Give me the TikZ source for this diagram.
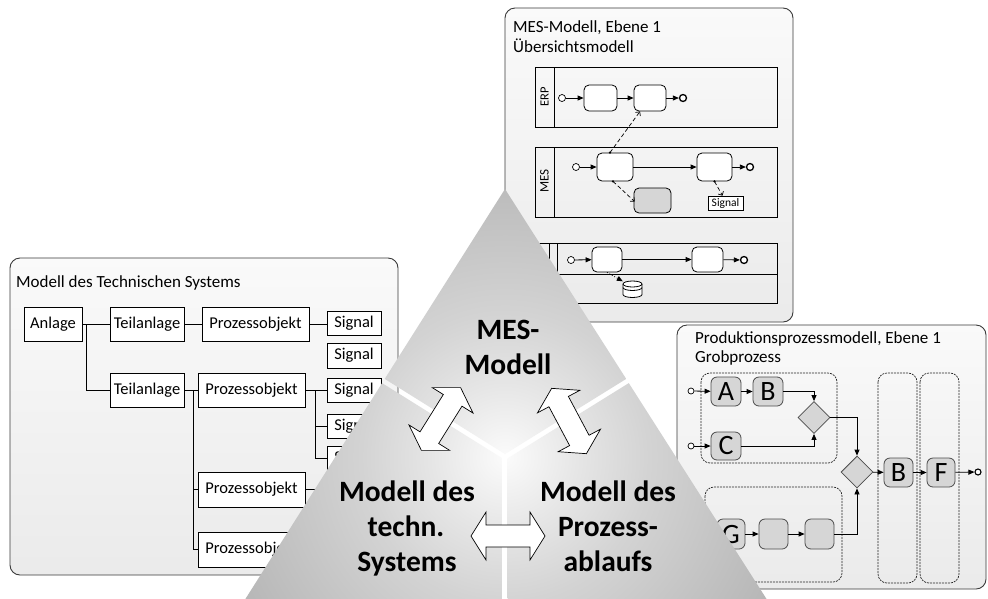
\documentclass[tikz,border=0pt]{standalone}
\usepackage{fontspec}
\setmainfont{Carlito}
\usetikzlibrary{arrows.meta,shapes.geometric,calc}

\definecolor{pyrA}{HTML}{FBFBFB}
\definecolor{pyrB}{HTML}{E6E6E6}
\definecolor{pyrC}{HTML}{D3D3D3}
\definecolor{pyrD}{HTML}{B6B6B6}
\definecolor{panelline}{HTML}{3A3A3A}
\definecolor{taskgray}{HTML}{D6D6D6}
\pgfdeclareradialshading{pyrglow}{\pgfpointorigin}{color(0bp)=(pyrA); color(6bp)=(pyrB); color(12bp)=(pyrC); color(25bp)=(pyrD); color(50bp)=(pyrD)}

\begin{document}
\begin{tikzpicture}[x=1pt,y=-1pt,
  panel/.style={draw=panelline, line width=0.9pt, rounded corners=10pt, top color=white!98!black, bottom color=white!92!black},
  title/.style={anchor=base west, inner sep=0pt, font=\fontsize{17}{20}\selectfont},
  tbox/.style={draw, fill=white, line width=0.8pt, inner sep=0pt, font=\fontsize{16.5}{19}\selectfont},
  tline/.style={draw, line width=0.8pt},
  pool/.style={draw, line width=1pt},
  lanelabel/.style={rotate=90, inner sep=0pt, font=\fontsize{13}{14}\selectfont},
  mtask/.style={draw, fill=white, rounded corners=5pt, inner sep=0pt, line width=0.8pt},
  startev/.style={circle, draw, fill=white, inner sep=0pt, minimum size=7pt, line width=0.7pt},
  endev/.style={circle, draw, fill=white, inner sep=0pt, minimum size=7pt, line width=1.3pt},
  flow/.style={draw, line width=0.8pt, -{Triangle[length=6pt,width=5pt]}},
  assoc/.style={draw, line width=0.7pt, dash pattern=on 4pt off 2.5pt, -{Straight Barb[length=3pt,width=6pt]}},
  datalink/.style={draw, line width=0.8pt, dotted, -{Triangle[length=6pt,width=5pt]}},
  gtask/.style={draw=black!70, fill=taskgray, rounded corners=6pt, inner sep=0pt, line width=0.8pt, font=\fontsize{28}{28}\selectfont},
  gw/.style={diamond, draw=black!70, fill=taskgray, inner sep=0pt, minimum width=32pt, minimum height=32pt, line width=0.8pt},
  grp/.style={draw=black!85, dash pattern=on 2pt off 1pt, rounded corners=9pt, line width=0.7pt},
  ptext/.style={anchor=base, inner sep=0pt, font=\fontsize{29.5}{35}\selectfont\bfseries},
  dbl/.style={draw=black, fill=white, line width=0.7pt, line join=miter},
  dblarrow/.pic={\path[dbl] (-37,0) -- (-22,24) -- (-22,11) -- (22,11) -- (22,24) -- (37,0)
      -- (22,-24) -- (22,-11) -- (-22,-11) -- (-22,-24) -- cycle;}
]
\useasboundingbox (0,0) rectangle (988,598);
\clip (0,0) rectangle (988,598);
\fill[white] (0,0) rectangle (988,598);

% ---------------- technical system panel ----------------
\path[panel] (10,258) rectangle (398,575);
\node[title] (techtitle) at (16,287.5) {Modell des Technischen Systems};

\node[tbox, minimum width=58pt, minimum height=34pt] (anl) at (53,324) {Anlage};
\node[tbox, minimum width=74pt, minimum height=34pt] (ta1) at (147,324) {Teilanlage};
\node[tbox, minimum width=107pt, minimum height=34pt] (po1) at (255.5,324) {Prozessobjekt};
\node[tbox, minimum width=54pt, minimum height=23.5pt] (s1) at (354,323.5) {Signal};
\node[tbox, minimum width=54pt, minimum height=25pt] (s2) at (354,355.5) {Signal};
\node[tbox, minimum width=74pt, minimum height=34pt] (ta2) at (147,390) {Teilanlage};
\node[tbox, minimum width=107pt, minimum height=34pt] (po2) at (251.5,390) {Prozessobjekt};
\node[tbox, minimum width=54pt, minimum height=24pt] (s3) at (354,390) {Signal};
\node[tbox, minimum width=54pt, minimum height=24pt] (s4) at (354,426) {Signal};
\node[tbox, minimum width=54pt, minimum height=24pt] (s5) at (354,458) {Signal};
\node[tbox, minimum width=107pt, minimum height=35pt] (po3) at (251.5,489.5) {Prozessobjekt};
\node[tbox, minimum width=107pt, minimum height=35pt] (po4) at (251.5,549.5) {Prozessobjekt};
\coordinate (po3out) at (320,489.5);

\draw[tline] (anl.east) -- (ta1.west);
\draw[tline] ($(anl.east)+(4,0)$) |- (ta2.west);
\draw[tline] (ta1.east) -- (po1.west);
\draw[tline] (po1.east) -- (po1.east -| s1.west);
\draw[tline] (ta2.east) -- (po2.west);
\draw[tline] ($(ta2.east)+(9,0)$) |- (po3.west);
\draw[tline] ($(ta2.east)+(9,0)$) |- (po4.west);
\draw[tline] (po2.east) -- (s3.west);
\draw[tline] ($(po2.east)+(10,0)$) |- (s4.west);
\draw[tline] ($(po2.east)+(10,0)$) |- (s5.west);
\draw[tline] (po3.east) -- (po3out);

% ---------------- MES panel ----------------
\path[panel] (505,8) rectangle (793,322);
\node[title] (mestitle1) at (513,32) {MES-Modell, Ebene 1};
\node[title] (mestitle2) at (513,52) {Übersichtsmodell};

% ERP pool
\draw[pool] (535,67) rectangle (777,127);
\draw[pool] (554,67) -- (554,127);
\node[lanelabel, font=\fontsize{12.5}{13}\selectfont] (erpl) at (544.5,97) {ERP};
\node[startev] (es) at (562,98) {};
\node[mtask, minimum width=33pt, minimum height=26pt] (et1) at (600.5,98) {};
\node[mtask, minimum width=32pt, minimum height=26pt] (et2) at (650,98) {};
\node[endev] (ee) at (683,98) {};
\draw[flow] (es) -- (et1);
\draw[flow] (et1) -- (et2);
\draw[flow] (et2) -- (ee);

% MES pool
\draw[pool] (535,147) rectangle (777,217);
\draw[pool] (554,147) -- (554,217);
\node[lanelabel] (mesl) at (544.5,181) {MES};
\node[startev] (ms) at (576,167) {};
\node[mtask, minimum width=36pt, minimum height=28pt] (ma) at (615,167) {};
\node[mtask, minimum width=35pt, minimum height=28pt] (mb) at (714.5,167) {};
\node[endev] (me) at (750,167) {};
\node[mtask, fill=taskgray, minimum width=37pt, minimum height=25pt] (mg) at (652.5,200.5) {};
\node[draw, fill=white, inner sep=0pt, minimum width=35pt, minimum height=14pt, line width=0.7pt,
      font=\fontsize{11.5}{12}\selectfont] (msig) at (725.5,203) {Signal};
\draw[flow] (ms) -- (ma);
\draw[flow] (ma) -- (mb);
\draw[flow] (mb) -- (me);
\fill ($(ma.north)+(-5,0)$) circle (1.3pt);
\draw[assoc] ($(ma.north)+(-5,0)$) -- ($(et2.south)+(-10,0)$);
\fill ($(ma.south)+(-2,0)$) circle (1.3pt);
\draw[assoc] ($(ma.south)+(-2,0)$) -- ($(mg.west)+(1,1)$);
\fill (mb.south) circle (1.3pt);
\draw[assoc] (mb.south) -- ($(msig.north)+(-3,0)$);

% third pool with two lanes
\draw[pool] (535,243) rectangle (777,303);
\draw[pool] (549,243) -- (549,303);
\draw[pool] (557,243) -- (557,303);
\draw[pool] (557,274) -- (777,274);
\node[startev] (ls) at (571,260) {};
\node[mtask, minimum width=30pt, minimum height=25pt] (lt1) at (607,259.5) {};
\node[mtask, minimum width=31pt, minimum height=25pt] (lt2) at (707.5,259.5) {};
\node[endev] (le) at (744,260) {};
% data store drawn as a small can
\node[inner sep=0pt, minimum width=19pt, minimum height=16pt] (store) at (632.5,289) {};
\draw[fill=white, line width=0.8pt] (623,284) -- (623,294.5)
   arc[start angle=180, end angle=0, x radius=9.5, y radius=3] -- (642,284);
\draw[fill=white, line width=0.8pt] (632.5,284) ellipse [x radius=9.5, y radius=3];
\draw[line width=0.8pt] (623,287.5) arc[start angle=180, end angle=0, x radius=9.5, y radius=3];
\draw[datalink] (lt1.south) -- ($(store.north west)+(0,0.5)$);
\draw[flow] (ls) -- (lt1);
\draw[flow] (lt1) -- (lt2);
\draw[flow] (lt2) -- (le);

% ---------------- production process panel ----------------
\path[panel] (677,325) rectangle (986,589);
\node[title] (protitle1) at (695,343) {Produktionsprozessmodell, Ebene 1};
\node[title] (protitle2) at (695,362) {Grobprozess};

\draw[grp] (701,373) rectangle (837,463);
\draw[grp] (705,487) rectangle (842,582);
\draw[grp] (878,373) rectangle (917,583);
\draw[grp] (920,373) rectangle (959,583);

\node[startev, minimum size=6pt] (ps1) at (691,391) {};
\node[startev, minimum size=6pt] (ps2) at (691,446) {};
\node[gtask, minimum width=30pt, minimum height=29pt] (pa) at (726,391.5) {A};
\node[gtask, minimum width=30pt, minimum height=29pt] (pb) at (768,391.5) {B};
\node[gtask, minimum width=30pt, minimum height=28pt] (pc) at (726,446) {C};
\node[gw] (gw1) at (814,417.5) {};
\node[gw] (gw2) at (857,472) {};
\node[gtask, minimum width=29pt, minimum height=29pt] (lb) at (898.5,472.5) {B};
\node[gtask, minimum width=28pt, minimum height=29pt] (lf) at (941,472.5) {F};
\node[endev, minimum size=6pt, line width=1.1pt] (pe) at (978,472) {};
\node[gtask, minimum width=28pt, minimum height=30pt] (pg) at (731,534) {G};
\node[gtask, minimum width=29pt, minimum height=30pt] (pg2) at (773.5,534) {};
\node[gtask, minimum width=29pt, minimum height=30pt] (pg3) at (819.5,534) {};

\draw[flow] (ps1) -- (pa);
\draw[flow] (ps2) -- (pc);
\draw[flow] (pa) -- (pb);
\draw[flow] (pb.east) -| (gw1.north);
\draw[flow] (pc.east) -| (gw1.south);
\draw[flow] (gw1.east) -| (gw2.north);
\draw[flow] (pg3.east) -| (gw2.south);
\draw[flow] (gw2) -- (lb);
\draw[flow] (lb) -- (lf);
\draw[flow] (lf) -- (pe);
\draw[flow] (pg) -- (pg2);
\draw[flow] (pg2) -- (pg3);

% ---------------- pyramid of the three models ----------------
\begin{scope}
  \clip (505,189) -- (384.7,378.9) -- (505,454.05) -- (626.2,378.9) -- cycle;
  \shade[shading=pyrglow] (505,457) circle (300pt);
\end{scope}
\begin{scope}
  \clip (382.1,383.1) -- (502.5,458.4) -- (502.5,640) -- (219.4,640) -- cycle;
  \shade[shading=pyrglow] (505,457) circle (300pt);
\end{scope}
\begin{scope}
  \clip (628.8,383.1) -- (507.5,458.4) -- (507.5,640) -- (792.7,640) -- cycle;
  \shade[shading=pyrglow] (505,457) circle (300pt);
\end{scope}

\node[ptext] (mes1) at (508,339) {MES-};
\node[ptext] (mes2) at (508,374) {Modell};
\node[ptext] (tec1) at (407,501) {Modell des};
\node[ptext] (tec2) at (406,536) {techn.};
\node[ptext] (tec3) at (407,571) {Systems};
\node[ptext] (pro1) at (608,501) {Modell des};
\node[ptext] (pro2) at (608,536) {Prozess-};
\node[ptext] (pro3) at (608,571) {ablaufs};

\pic[rotate=58] at (441,419) {dblarrow};
\pic[rotate=118] at (569,421) {dblarrow};
\pic at (508,536) {dblarrow};
\end{tikzpicture}
\end{document}
